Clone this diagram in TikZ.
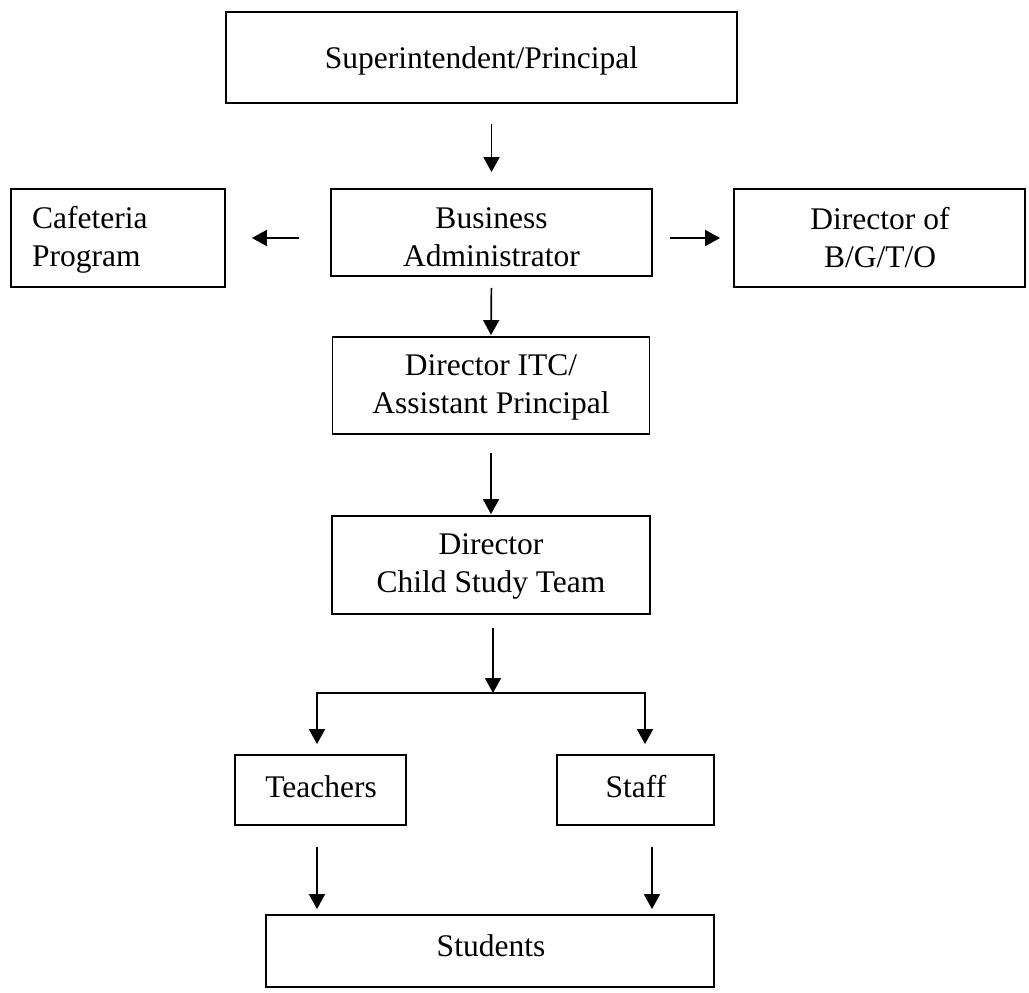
\documentclass[tikz,border=0pt]{standalone}
\usepackage{fontspec}
\setmainfont{Liberation Serif}
\usetikzlibrary{arrows.meta,calc}
\setlength{\tabcolsep}{0pt}
\begin{document}
\begin{tikzpicture}[x=1pt,y=-1pt,
  box/.style={draw, line width=1.8pt, inner sep=0pt},
  txt/.style={inner sep=0pt, anchor=base, font=\fontsize{31.5}{38}\selectfont},
  conn/.style={line width=1.7pt},
  arr/.style={conn, -{Triangle[length=15pt,width=16pt]}}]
\useasboundingbox (0,0) rectangle (1029,993);
% boxes
\node[box, minimum width=511pt, minimum height=91pt] (super) at (481.5,57.5) {};
\node[box, minimum width=214pt, minimum height=98pt] (caf) at (118,238) {};
\node[box, minimum width=321pt, minimum height=87pt] (bus) at (491.5,232.5) {};
\node[box, minimum width=291pt, minimum height=98pt] (dir) at (879.5,238) {};
\node[box, minimum width=317pt, minimum height=97pt] (itc) at (491,385.5) {};
\node[box, minimum width=318pt, minimum height=98pt] (child) at (491,565) {};
\node[box, minimum width=171pt, minimum height=70pt] (teach) at (320.5,790) {};
\node[box, minimum width=157pt, minimum height=70pt] (staff) at (635.5,790) {};
\node[box, minimum width=448pt, minimum height=72pt] (stud) at (490,951) {};
% texts
\node[txt] (superT) at (481.5,68) {Superintendent/Principal};
\node[txt, anchor=base west] (cafT) at (32,228.5) {\begin{tabular}[t]{l}Cafeteria\\Program\end{tabular}};
\node[txt] (busT) at (491.5,228.5) {\begin{tabular}[t]{c}Business\\Administrator\end{tabular}};
\node[txt] (dirT) at (880,229) {\begin{tabular}[t]{c}Director of\\B/G/T/O\end{tabular}};
\node[txt] (itcT) at (491,375) {\begin{tabular}[t]{c}Director ITC/\\Assistant Principal\end{tabular}};
\node[txt] (childT) at (491,554) {\begin{tabular}[t]{c}Director\\Child Study Team\end{tabular}};
\node[txt] (teachT) at (321,797) {Teachers};
\node[txt] (staffT) at (636,797) {Staff};
\node[txt] (studT) at (491,956) {Students};
% junction coordinates
\coordinate (split) at (493,693);
\coordinate (barL) at (317,693);
\coordinate (barR) at (645,693);
% connectors
\draw[arr, shorten <=20pt, shorten >=16pt] (bus.north |- super.south) -- (bus.north);
\draw[arr, shorten <=31pt, shorten >=26pt] (bus.west |- caf.east) -- (caf.east);
\draw[arr, shorten <=17pt, shorten >=13pt] (bus.east |- dir.west) -- (dir.west);
\draw[arr, shorten <=11pt, shorten >=1pt] (bus.south) -- (itc.north);
\draw[arr, shorten <=18pt, shorten >=1pt] (itc.south) -- (child.north);
\draw[arr, shorten <=13pt] (child.south -| split) -- (split);
\draw[arr, shorten >=10pt] (split) -| (barL |- teach.north);
\draw[arr, shorten >=10pt] (split) -| (barR |- staff.north);
\draw[arr, shorten <=21pt, shorten >=5pt] (barL |- teach.south) -- (barL |- stud.north);
\draw[arr, shorten <=21pt, shorten >=5pt] ([xshift=16.5pt]staff.south) -- ([xshift=16.5pt]staff.south |- stud.north);
\end{tikzpicture}
\end{document}
